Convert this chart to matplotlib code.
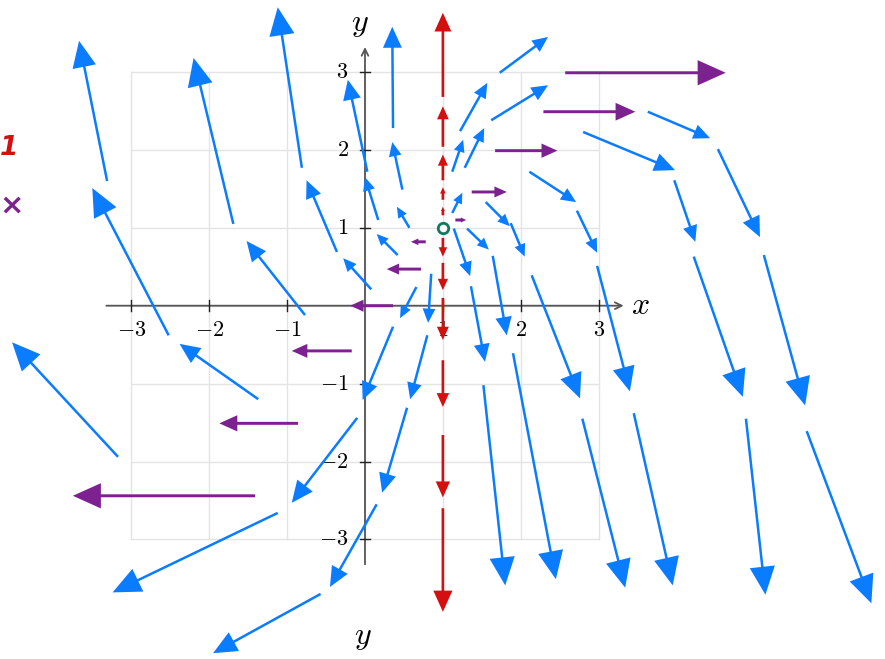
import numpy as np
import matplotlib
matplotlib.use('Agg')
import matplotlib.pyplot as plt

plt.rcParams['mathtext.fontset'] = 'cm'

# blue field arrows, tail (x0, y0) -> tip (x1, y1), data units
blue_x0 = [-3.31, -2.52, -1.69, -0.77, -0.81, -0.36, 0.08, 0.17, 0.03,
           -3.17, -1.37, -0.10, -1.12, 0.15, -0.57, 0.36, 0.80, 0.54,
           1.12, 1.12, 1.22, 1.73, 1.28, 1.62, 2.11, 1.55, 1.87, 1.31, 1.14,
           0.57, 0.42, 0.48, 0.36, 0.66, 0.85, 1.36, 1.64, 2.14,
           3.63, 2.80, 4.53, 3.97, 2.72, 4.22, 5.12, 2.98,
           2.79, 3.45, 4.89, 5.67, 1.52, 1.90]
blue_y0 = [1.60, -0.38, 1.05, -0.12, 1.77, 0.69, 0.21, 1.10, 1.72,
           -1.94, -1.20, -1.44, -2.66, -2.55, -3.70, -0.27, -0.38, -1.31,
           1.19, 1.72, 2.24, 2.99, 1.77, 2.38, 1.72, 1.33, 1.06, 0.99, 0.99,
           1.00, 0.65, 1.49, 2.28, 0.24, 0.41, 0.25, 0.64, 0.39,
           2.49, 2.23, 2.01, 1.61, 1.22, 0.63, 0.65, 0.51,
           -1.45, -1.38, -1.45, -1.61, -1.02, -0.61]
blue_x1 = [-3.67, -3.50, -2.20, -1.52, -1.12, -0.75, -0.28, 0.00, -0.22,
           -4.53, -2.38, -0.94, -3.24, -0.45, -1.95, -0.03, 0.58, 0.22,
           1.25, 1.26, 1.57, 2.35, 1.53, 2.35, 2.71, 1.86, 2.05, 1.59, 1.35,
           0.41, 0.15, 0.35, 0.35, 0.45, 0.81, 1.54, 1.82, 2.76,
           4.43, 3.98, 5.07, 4.24, 2.98, 4.85, 5.65, 3.40,
           3.34, 3.95, 5.14, 6.50, 1.80, 2.45]
blue_y1 = [3.40, 1.51, 3.18, 0.83, 3.83, 1.61, 0.61, 1.65, 2.90,
           -0.47, -0.49, -2.53, -3.68, -3.61, -4.46, -1.21, -1.20, -2.40,
           1.45, 2.13, 2.86, 3.45, 2.28, 2.83, 1.33, 1.02, 0.63, 0.72, 0.38,
           1.27, 0.92, 2.10, 3.58, -0.16, -0.22, -0.72, -0.38, -1.19,
           2.15, 1.74, 0.88, 0.82, 0.68, -1.17, -1.28, -1.10,
           -3.62, -3.59, -3.71, -3.82, -3.59, -3.51]

# red arrows on the vertical line x = 1
red_x = [1.0] * 11
red_y0 = [2.68, 2.04, 1.61, 1.36, 1.16, 0.87, 0.55, 0.10, -0.70, -1.66, -2.60]
red_y1 = [3.76, 2.56, 1.94, 1.52, 1.27, 0.63, 0.20, -0.44, -1.30, -2.46, -3.93]

# purple horizontal arrows
purple_y = [1.10, 1.46, 1.99, 2.49, 2.99, 0.82, 0.47, 0.00, -0.58, -1.51, -2.44]
purple_x0 = [1.16, 1.37, 1.67, 2.29, 2.57, 0.78, 0.72, 0.36, -0.17, -0.86, -1.41]
purple_x1 = [1.30, 1.82, 2.47, 3.47, 4.63, 0.59, 0.28, -0.19, -0.94, -1.87, -3.75]

ticks = [-3, -2, -1, 1, 2, 3]
tick_labels = ['$-3$', '$-2$', '$-1$', '$1$', '$2$', '$3$']
eq_point = (1.0, 1.0)

BLUE = '#0a7cff'
RED = '#d40f0f'
PURPLE = '#7d2190'
GREEN = '#117a5c'

fig = plt.figure(figsize=(8.85, 6.59), dpi=100)
ax = fig.add_axes([0, 0, 1, 1])
ax.set_xlim(-4.685, 6.675)
ax.set_ylim(-4.535, 3.924)
ax.set_aspect('equal')
ax.axis('off')

# light grid box from -3 to 3
for g in range(-3, 4):
    ax.plot([g, g], [-3, 3], color='#e4e4e4', lw=1.0, zorder=1)
    ax.plot([-3, 3], [g, g], color='#e4e4e4', lw=1.0, zorder=1)

# axes with open arrow heads
ax.annotate('', xy=(3.32, 0), xytext=(-3.32, 0),
            arrowprops=dict(arrowstyle='->', color='#555555', lw=1.3,
                            mutation_scale=12, shrinkA=0, shrinkB=0), zorder=2)
ax.annotate('', xy=(0, 3.32), xytext=(0, -3.32),
            arrowprops=dict(arrowstyle='->', color='#555555', lw=1.3,
                            mutation_scale=12, shrinkA=0, shrinkB=0), zorder=2)
for t, lab in zip(ticks, tick_labels):
    ax.plot([t, t], [-0.07, 0.07], color='#222222', lw=1.0, zorder=2)
    ax.plot([-0.07, 0.07], [t, t], color='#222222', lw=1.0, zorder=2)
    ax.text(t, -0.31, lab, ha='center', va='center', fontsize=16, zorder=2)
    ax.text(-0.21, t, lab, ha='right', va='center', fontsize=16, zorder=2)

ax.text(3.53, 0.0, '$x$', ha='center', va='center', fontsize=23)
ax.text(-0.06, 3.62, '$y$', ha='center', va='center', fontsize=23)
ax.text(-0.03, -4.25, '$y$', ha='center', va='center', fontsize=23)

# legend marks on the left
ax.text(-4.57, 2.02, '1', color=RED, ha='center', va='center', fontsize=19,
        fontweight='bold', style='italic')
ax.text(-4.54, 1.28, '×', color=PURPLE, ha='center', va='center', fontsize=21,
        fontweight='bold')


def draw_arrows(x0, y0, x1, y1, color, width):
    for a, b, c, d in zip(x0, y0, x1, y1):
        length = np.hypot(c - a, d - b)
        hl = min(0.5 * length, 0.1 + 0.13 * length, 0.36)
        ax.arrow(a, b, c - a, d - b, width=width, head_width=0.9 * hl,
                 head_length=hl, length_includes_head=True, color=color,
                 lw=0, zorder=4)


draw_arrows(blue_x0, blue_y0, blue_x1, blue_y1, BLUE, 0.032)
draw_arrows(red_x, red_y0, red_x, red_y1, RED, 0.034)
draw_arrows(purple_x0, purple_y, purple_x1, purple_y, PURPLE, 0.038)

ax.plot(*eq_point, 'o', mfc='white', mec=GREEN, ms=7.5, mew=2, zorder=5)

fig.savefig('out.png', dpi=100)
